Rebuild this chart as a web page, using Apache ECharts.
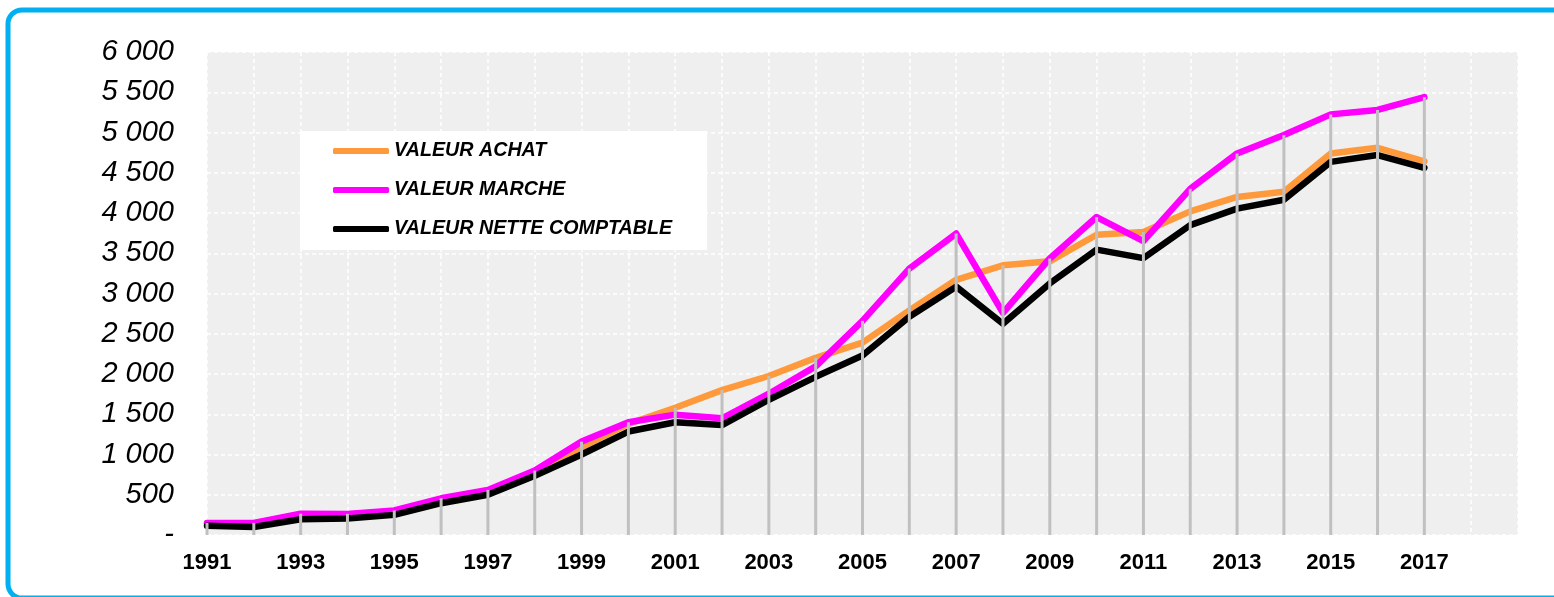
<!DOCTYPE html>
<html>
<head>
<meta charset="utf-8">
<script src="https://cdn.jsdelivr.net/npm/echarts@6/dist/echarts.min.js"></script>
<style>
  html, body { margin: 0; padding: 0; background: #fff; }
  #chart { width: 1554px; height: 597px; }
</style>
</head>
<body>
<div id="chart"></div>
<script>
// années
const years = [1991, 1992, 1993, 1994, 1995, 1996, 1997, 1998, 1999, 2000, 2001, 2002, 2003, 2004,
  2005, 2006, 2007, 2008, 2009, 2010, 2011, 2012, 2013, 2014, 2015, 2016, 2017]

const valeurAchat = [145, 145, 255, 255, 295, 440, 545, 790, 1090, 1380, 1580, 1800, 1975, 2200,
  2390, 2790, 3170, 3350, 3400, 3730, 3765, 4020, 4200, 4265, 4740, 4810, 4640]
const valeurMarche = [150, 150, 265, 262, 305, 456, 560, 800, 1160, 1400, 1495, 1450, 1755, 2095,
  2660, 3310, 3745, 2760, 3435, 3950, 3650, 4300, 4740, 4970, 5225, 5280, 5440]
const valeurNette = [115, 100, 195, 205, 250, 395, 500, 735, 1000, 1285, 1400, 1365, 1680, 1965,
  2230, 2710, 3085, 2625, 3125, 3545, 3440, 3850, 4055, 4165, 4635, 4720, 4560]

const seriesNames = ['VALEUR ACHAT', 'VALEUR MARCHE', 'VALEUR NETTE COMPTABLE']

const FONT = "'Liberation Sans', Arial, sans-serif"
const COLOR_ACHAT = '#FF9A3C'
const COLOR_MARCHE = '#FF00FF'
const COLOR_NETTE = '#000000'

const pairs = arr => years.map((y, i) => [y, arr[i]])
// lignes de projection : du point le plus haut jusqu'à l'axe
const dropLines = years.map((y, i) => [y, Math.max(valeurAchat[i], valeurMarche[i], valeurNette[i])])

const fmtThousands = v => {
  if (v === 0) return '-'
  const s = String(v)
  return s.length > 3 ? s.slice(0, s.length - 3) + ' ' + s.slice(-3) : s
}

const lineSeries = (name, data, color, z) => ({
  name,
  type: 'line',
  data: pairs(data),
  showSymbol: false,
  symbol: 'none',
  z,
  itemStyle: { color },
  lineStyle: { color, width: 6.5, cap: 'round', join: 'round' }
})

const chart = echarts.init(document.getElementById('chart'))

const option = {
  animation: false,
  graphic: [
    {
      type: 'rect',
      silent: true,
      z: 100,
      shape: { x: 8, y: 10, width: 1570, height: 588, r: 14 },
      style: { fill: 'none', stroke: '#00B0F0', lineWidth: 5 }
    }
  ],
  grid: {
    left: 207,
    right: 36,
    top: 52,
    bottom: 62,
    show: true,
    backgroundColor: '#EFEFEF',
    borderWidth: 0
  },
  legend: {
    data: seriesNames,
    orient: 'vertical',
    left: 300,
    top: 131,
    padding: [10, 35, 11, 33],
    itemGap: 19,
    itemWidth: 56,
    itemHeight: 6,
    icon: 'roundRect',
    backgroundColor: '#FFFFFF',
    textStyle: {
      fontFamily: FONT,
      fontSize: 19.7,
      fontWeight: 'bold',
      fontStyle: 'italic',
      color: '#000',
      lineHeight: 20
    }
  },
  xAxis: {
    type: 'value',
    min: 1991,
    max: 2019,
    interval: 1,
    axisLine: { show: false },
    axisTick: { show: false },
    splitLine: { show: true, lineStyle: { color: '#FFFFFF', width: 1.5, type: [4, 3] } },
    axisLabel: {
      margin: 17,
      fontFamily: FONT,
      fontSize: 22,
      fontWeight: 'bold',
      color: '#000',
      formatter: v => (v % 2 === 1 && v <= 2017 ? String(v) : '')
    }
  },
  yAxis: {
    type: 'value',
    min: 0,
    max: 6000,
    interval: 500,
    axisLine: { show: false },
    axisTick: { show: false },
    splitLine: { show: true, lineStyle: { color: '#FFFFFF', width: 1.5, type: [4, 3] } },
    axisLabel: {
      margin: 33,
      fontFamily: FONT,
      fontSize: 29,
      fontStyle: 'italic',
      color: '#000',
      formatter: fmtThousands
    }
  },
  series: [
    lineSeries(seriesNames[0], valeurAchat, COLOR_ACHAT, 2),
    lineSeries(seriesNames[1], valeurMarche, COLOR_MARCHE, 3),
    lineSeries(seriesNames[2], valeurNette, COLOR_NETTE, 4),
    {
      name: 'drop',
      type: 'bar',
      data: dropLines,
      barWidth: 3,
      z: 5,
      itemStyle: { color: '#C0C0C0' }
    }
  ]
}

chart.setOption(option)
</script>
</body>
</html>
